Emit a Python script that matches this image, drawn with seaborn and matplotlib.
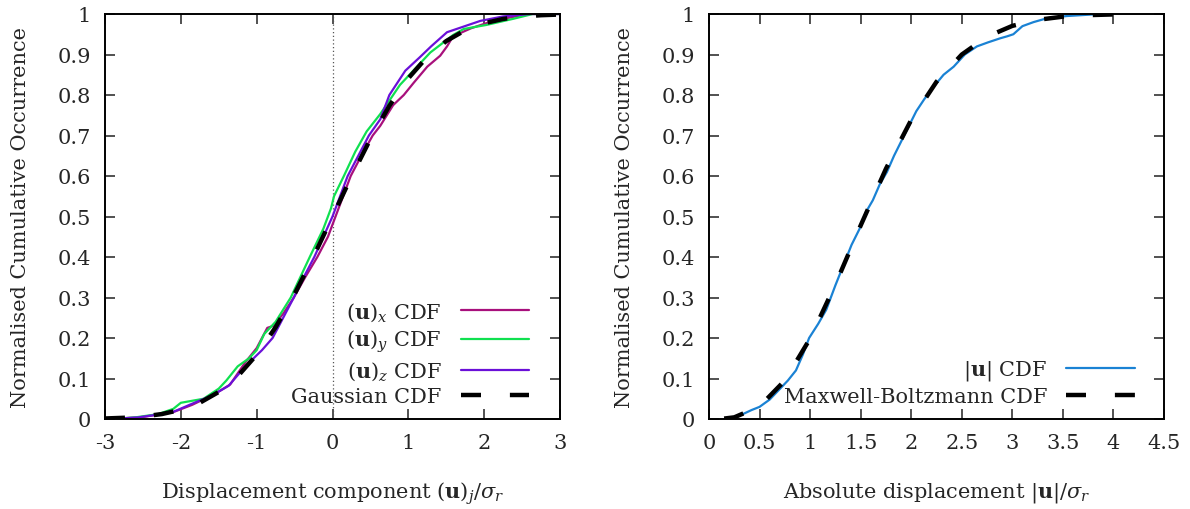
import matplotlib
matplotlib.use("Agg")
import matplotlib.pyplot as plt
import seaborn as sns
import pandas as pd

# ---------------- data ----------------
ux_x = [-2.9, -2.5, -2.1, -1.85, -1.55, -1.35, -1.15, -1.0, -0.86, -0.78, -0.65, -0.51,
        -0.36, -0.2, -0.06, 0.04, 0.12, 0.24, 0.38, 0.53, 0.63, 0.8, 0.94, 1.07, 1.25,
        1.42, 1.51, 1.59, 1.83, 2.12, 2.57, 3.0]
ux_y = [0.0, 0.005, 0.017, 0.035, 0.062, 0.085, 0.14, 0.175, 0.225, 0.23, 0.26, 0.3,
        0.35, 0.4, 0.45, 0.5, 0.54, 0.6, 0.65, 0.7, 0.724, 0.775, 0.8, 0.83, 0.87,
        0.897, 0.92, 0.945, 0.965, 0.983, 1.0, 1.0]

uy_x = [-2.9, -2.6, -2.3, -2.1, -2.0, -1.85, -1.7, -1.5, -1.4, -1.25, -1.1, -1.0, -0.9,
        -0.75, -0.55, -0.3, -0.12, -0.02, 0.02, 0.15, 0.3, 0.45, 0.63, 0.89, 1.07, 1.29,
        1.59, 1.73, 2.03, 2.38, 2.64, 3.0]
uy_y = [0.0, 0.004, 0.012, 0.025, 0.04, 0.045, 0.05, 0.075, 0.095, 0.13, 0.15, 0.17, 0.21,
        0.24, 0.3, 0.4, 0.47, 0.52, 0.55, 0.6, 0.66, 0.71, 0.753, 0.825, 0.861, 0.905,
        0.948, 0.963, 0.973, 0.988, 1.0, 1.0]

uz_x = [-2.9, -2.56, -2.12, -1.86, -1.59, -1.37, -1.15, -0.93, -0.79, -0.65, -0.51, -0.38,
        -0.24, -0.12, 0.0, 0.08, 0.2, 0.34, 0.48, 0.63, 0.75, 0.96, 1.15, 1.3, 1.51, 1.95,
        2.25, 2.6, 3.0]
uz_y = [0.0, 0.004, 0.016, 0.037, 0.058, 0.082, 0.13, 0.17, 0.2, 0.25, 0.3, 0.35,
        0.4, 0.45, 0.5, 0.54, 0.6, 0.65, 0.7, 0.74, 0.8, 0.86, 0.893, 0.92, 0.955, 0.983,
        0.994, 1.0, 1.0]

gauss_x = [-3.0, -2.75, -2.5, -2.25, -2.0, -1.75, -1.5, -1.25, -1.0, -0.75, -0.5, -0.25, 0.0,
           0.25, 0.5, 0.75, 1.0, 1.25, 1.5, 1.75, 2.0, 2.25, 2.5, 2.75, 3.0]
gauss_y = [0.0013, 0.0030, 0.0062, 0.0122, 0.0228, 0.0401, 0.0668, 0.1056, 0.1587, 0.2266,
           0.3085, 0.4013, 0.5, 0.5987, 0.6915, 0.7734, 0.8413, 0.8944, 0.9332, 0.9599,
           0.9772, 0.9878, 0.9938, 0.9970, 0.9987]

abs_x = [0.155, 0.30, 0.42, 0.50, 0.60, 0.70, 0.78, 0.86, 0.93, 0.99, 1.08, 1.16, 1.25,
         1.33, 1.41, 1.49, 1.55, 1.62, 1.69, 1.76, 1.83, 1.89, 1.97, 2.05, 2.13, 2.22,
         2.32, 2.42, 2.53, 2.65, 2.76, 2.88, 2.95, 3.01, 3.1, 3.21, 3.35, 3.54, 3.87]
abs_y = [0.0, 0.008, 0.022, 0.03, 0.048, 0.074, 0.095, 0.12, 0.16, 0.20, 0.235, 0.27, 0.33,
         0.38, 0.43, 0.47, 0.51, 0.54, 0.58, 0.61, 0.65, 0.68, 0.72, 0.76, 0.79, 0.82,
         0.85, 0.87, 0.90, 0.92, 0.93, 0.94, 0.945, 0.95, 0.97, 0.98, 0.99, 0.995, 1.0]

mb_x = [0.15, 0.25, 0.5, 0.75, 1.0, 1.25, 1.5, 1.75, 2.0, 2.25, 2.5, 2.75, 3.0, 3.25, 3.5,
        3.75, 4.0, 4.2]
mb_y = [0.0011, 0.0041, 0.0309, 0.0950, 0.1987, 0.3321, 0.4778, 0.6179, 0.7385, 0.8327,
        0.8999, 0.9440, 0.9707, 0.9856, 0.9934, 0.9972, 0.9989, 0.9995]

left_xticks = [-3, -2, -1, 0, 1, 2, 3]
right_xticks = [0, 0.5, 1, 1.5, 2, 2.5, 3, 3.5, 4, 4.5]
yticks = [0, 0.1, 0.2, 0.3, 0.4, 0.5, 0.6, 0.7, 0.8, 0.9, 1]

# ---------------- style ----------------
sns.set_theme(style="ticks")
plt.rcParams["font.family"] = ["DejaVu Serif"]
plt.rcParams["mathtext.fontset"] = "dejavuserif"
plt.rcParams["axes.unicode_minus"] = False
FS = 15

c_ux = "#a8107c"
c_uy = "#10e050"
c_uz = "#6a10d8"
c_abs = "#1a82d4"
DASH = (0, (4.5, 6.5))

fig = plt.figure(figsize=(11.9, 5.1), dpi=100)
W, H = 1190, 510
axL = fig.add_axes([105 / W, (H - 420) / H, 455 / W, 405 / H])
axR = fig.add_axes([709 / W, (H - 420) / H, 455 / W, 405 / H])


def style_axes(ax, xlim, xticks):
    ax.set_xlim(*xlim)
    ax.set_ylim(0, 1)
    ax.set_xticks(xticks)
    ax.set_yticks(yticks)
    ax.set_xticklabels(["%g" % t for t in xticks], fontsize=FS)
    ax.set_yticklabels(["%g" % t for t in yticks], fontsize=FS)
    ax.tick_params(direction="in", length=7, width=1.2, top=True, right=True,
                   color="#333333", pad=10)
    for s in ax.spines.values():
        s.set_linewidth(1.4)
        s.set_color("black")
    ax.set_ylabel("Normalised Cumulative Occurrence", fontsize=FS, labelpad=20)


def legend(ax, xa):
    ax.legend(loc="lower right", bbox_to_anchor=(xa, 0.0), frameon=False,
              markerfirst=False, fontsize=FS, handlelength=3.3, labelspacing=0.25,
              handletextpad=0.9, borderaxespad=0.2)


# left panel
axL.axvline(0, color="#555555", lw=0.9, ls=(0, (1, 2)), zorder=1)
sns.lineplot(x=ux_x, y=ux_y, ax=axL, color=c_ux, lw=1.6, sort=False, estimator=None,
             label=r"$(\mathbf{u})_x$ CDF")
sns.lineplot(x=uy_x, y=uy_y, ax=axL, color=c_uy, lw=1.6, sort=False, estimator=None,
             label=r"$(\mathbf{u})_y$ CDF")
sns.lineplot(x=uz_x, y=uz_y, ax=axL, color=c_uz, lw=1.6, sort=False, estimator=None,
             label=r"$(\mathbf{u})_z$ CDF")
sns.lineplot(x=gauss_x, y=gauss_y, ax=axL, color="black", lw=3.2, sort=False,
             estimator=None, label="Gaussian CDF")
axL.lines[-1].set_linestyle(DASH)
style_axes(axL, (-3, 3), left_xticks)
axL.set_xlabel(r"Displacement component $(\mathbf{u})_j/\sigma_r$", fontsize=FS, labelpad=20)
legend(axL, 0.96)

# right panel
sns.lineplot(x=abs_x, y=abs_y, ax=axR, color=c_abs, lw=1.6, sort=False, estimator=None,
             label=r"$|\mathbf{u}|$ CDF")
sns.lineplot(x=mb_x, y=mb_y, ax=axR, color="black", lw=3.2, sort=False, estimator=None,
             label="Maxwell-Boltzmann CDF")
axR.lines[-1].set_linestyle(DASH)
style_axes(axR, (0, 4.5), right_xticks)
axR.set_xlabel(r"Absolute displacement $|\mathbf{u}|/\sigma_r$", fontsize=FS, labelpad=20)
legend(axR, 0.963)

fig.savefig("out.png", dpi=100)
